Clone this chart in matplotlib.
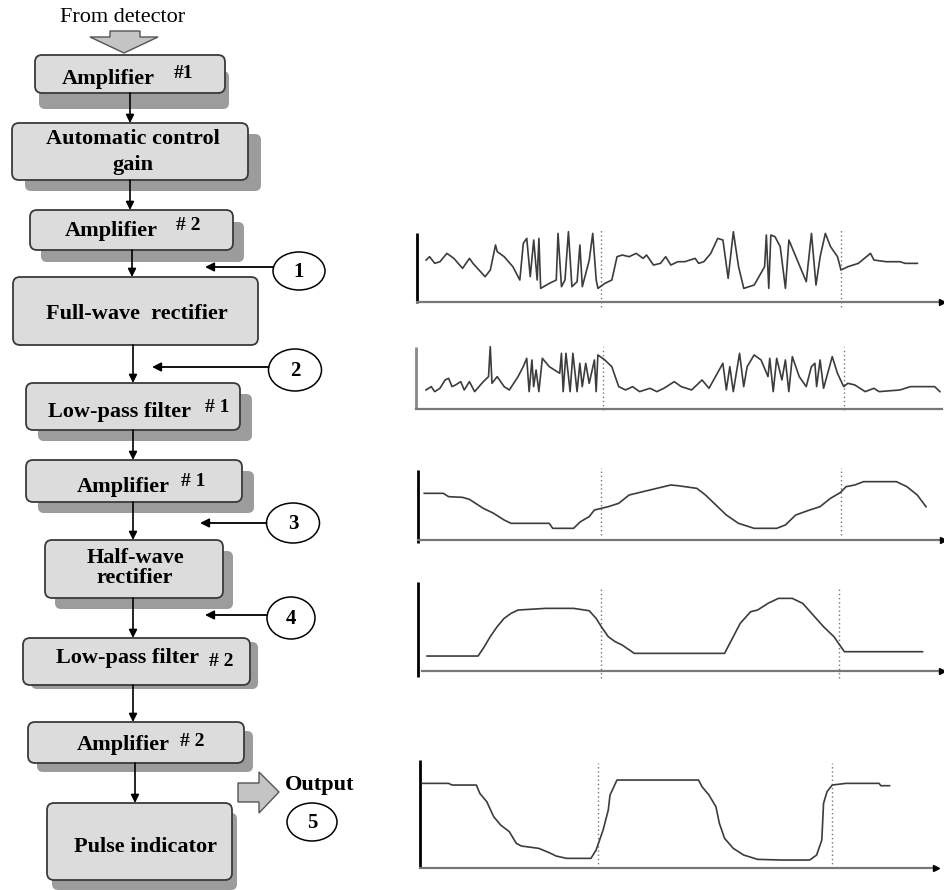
"""Pulse detection chain: block diagram with the signal seen at each stage"""

import matplotlib
matplotlib.use("Agg")
import matplotlib.pyplot as plt
from matplotlib.patches import FancyBboxPatch, Ellipse, Polygon

# ---- data -------------------------------------------------------------
block_labels = ["Amplifier", "Automatic control\ngain", "Amplifier",
                "Full-wave  rectifier", "Low-pass filter", "Amplifier",
                "Half-wave\nrectifier", "Low-pass filter", "Amplifier",
                "Pulse indicator"]
block_tags = ["#1", "", "# 2", "", "# 1", "# 1", "", "# 2", "# 2", ""]
probe_labels = ["1", "2", "3", "4", "5"]

# signal 1: output of amplifier #2 (time units, amplitude counts)
sig1_t = [2.5, 3.5, 5, 6.5, 8.5, 10.5, 13, 15, 16, 19.5, 21, 22.5, 23, 25, 27.5,
          29.5, 30.5, 31.5, 32.5, 33.5, 34.5, 35, 35.5, 38, 40, 40.5, 41.5, 42.5,
          43.5, 44.5, 46, 46.8, 47.5, 49.5, 50.5, 51.5, 52, 54, 56, 57.5, 59, 61,
          63, 65, 66, 68, 70, 71.5, 73, 75, 77, 80, 81, 82.5, 84.5, 86.5, 88,
          89.5, 91, 92.5, 94, 97, 100, 100.5, 101.2, 101.8, 103, 104.5, 106, 107,
          109, 112, 113.5, 114.8, 116, 117.5, 119, 121, 122, 124, 127, 130.5,
          131.5, 135, 139, 140.5, 144]
sig1_v = [125, 135, 115, 120, 145, 130, 100, 130, 115, 75, 95, 170, 150, 135, 105,
          65, 175, 190, 75, 185, 65, 190, 40, 55, 65, 205, 45, 65,
          210, 45, 60, 170, 45, 125, 205, 65, 40, 55, 65, 135, 140, 135,
          145, 130, 140, 110, 115, 135, 110, 120, 120, 130, 115, 120, 145, 190, 185,
          70, 210, 105, 40, 50, 105, 200, 40, 200, 195, 165, 40, 185,
          135, 60, 205, 50, 135, 205, 165, 135, 95, 105, 115, 145,
          125, 120, 120, 115, 115]

# signal 2: after the full-wave rectifier
sig2_t = [2.8, 4.3, 5.3, 6.8, 8.3, 9.3, 10.3, 11.3, 12.8, 13.8, 15.3, 16.8, 19.3,
          20.8, 21.3, 21.8, 23.3, 25.3, 26.8, 29.3, 30.8, 31.8, 32.5, 33.3, 33.8,
          34.5, 35.3, 36.3, 38.3, 41.3, 41.8, 42.3, 43.1, 44.3, 45.1, 46.3, 47.1,
          47.8, 48.8, 49.8, 51.3, 51.8, 52.3, 54.3, 56.3, 58.3, 60.3, 62.3, 64.3,
          67.3, 69.3, 71.3, 74.3, 76.3, 79.3, 82.3, 84.3, 88.3, 89.3, 90.3, 91.3,
          93.1, 94.3, 95.3, 97.3, 99.3, 101.3, 101.8, 102.8, 103.8, 105.3, 106.3,
          107.3, 108.3, 110.3, 112.3, 113.8, 114.8, 115.3, 116.3, 117.3, 119.8,
          121.3, 123.1, 124.3, 126.3, 129.3, 131.8, 133.3, 139.3, 142.3, 149.3,
          150.8]
sig2_v = [58, 68, 53, 63, 88, 93, 68, 73, 83, 58, 83, 53, 83,
          98, 188, 78, 98, 68, 58, 98, 128, 153, 53, 148, 68,
          118, 53, 153, 128, 108, 168, 53, 168, 53, 168, 53, 138,
          68, 138, 78, 148, 53, 163, 148, 128, 68, 58, 68, 53,
          63, 53, 63, 83, 68, 58, 88, 63, 138, 58, 128, 53,
          168, 68, 128, 163, 148, 98, 153, 53, 153, 88, 148,
          53, 158, 98, 68, 128, 138, 68, 148, 63, 158,
          108, 68, 78, 73, 53, 63, 53, 58, 68, 68,
          53]

# signal 3: after low-pass filter #1 and amplifier #1
sig3_t = [1.8, 7.3, 8.8, 12.8, 14.8, 18.8, 21.8, 24.8, 26.8, 37.8, 38.8, 44.8,
          46.8, 49.3, 50.8, 54.8, 57.8, 60.8, 64.8, 68.8, 72.8, 74.8, 80.3, 82.8,
          85.8, 88.8, 92.3, 96.8, 103.3, 105.8, 108.8, 112.8, 115.8, 118.8, 121.6,
          123.3, 125.8, 128.3, 137.8, 140.8, 143.8, 146.3]
sig3_v = [140, 140, 130, 128, 122, 95, 80, 60, 50, 50, 35, 35,
          55, 70, 90, 100, 110, 135, 145, 155, 165, 163, 155, 135,
          105, 75, 50, 35, 35, 45, 75, 90, 100, 125, 142,
          160, 165, 175, 175, 160, 135, 100]

# signal 4: after the half-wave rectifier
sig4_t = [2.6, 17.3, 18.8, 20.8, 22.8, 24.8, 26.8, 28.8, 36.8, 44.8, 49.3, 51.3,
          52.8, 54.8, 56.8, 58.8, 62.3, 88.3, 89.8, 92.8, 95.8, 97.8, 100.8, 103.8,
          107.8, 110.8, 113.8, 116.8, 119.8, 121.8, 122.8, 145.3]
sig4_v = [44, 44, 67, 102, 132, 157, 172, 182, 187, 187, 180, 157,
          132, 102, 87, 77, 52, 52, 82, 142, 177, 182, 202, 217,
          217, 202, 167, 132, 102, 72, 57, 57]

# signal 5: output after low-pass filter #2 and amplifier #2
sig5_t = [0.7, 8.2, 9.2, 16.2, 17.2, 19.2, 21.2, 23.2, 25.7, 27.7, 29.2, 34.2,
          37.2, 39.2, 42.2, 49.2, 50.7, 52.7, 54.2, 54.7, 56.7, 80.2, 81.2, 83.2,
          85.2, 86.2, 87.7, 90.2, 93.2, 97.2, 104.2, 112.2, 114.2, 115.7, 116.2,
          117.2, 118.7, 122.7, 132.2, 132.7, 135.2]
sig5_v = [253, 253, 248, 248, 223, 198, 153, 128, 108, 73, 65, 58,
          45, 35, 28, 28, 53, 113, 173, 218, 263, 263, 243, 218,
          183, 133, 88, 58, 38, 25, 23, 23, 38, 83, 193,
          228, 248, 253, 253, 246, 246]

# ---- layout ------------------------------------------------------------
W, H = 945, 890
SERIF = ["Liberation Serif", "DejaVu Serif"]
BOX_FACE = "#dcdcdc"
BOX_EDGE = "#3a3a3a"
SHADOW = "#9c9c9c"

# (x0, y0, x1, y1), shadow offset, text centre, tag centre
block_layout = [
    ((35, 55, 225, 93), (4, 16), (108, 79), (183, 74)),
    ((12, 123, 248, 180), (13, 11), (133, 152), None),
    ((30, 210, 233, 250), (11, 12), (111, 231), (188, 226)),
    ((13, 277, 258, 345), None, (137, 314), None),
    ((26, 383, 240, 430), (12, 11), (120, 412), (217, 407)),
    ((26, 460, 242, 502), (12, 11), (123, 487), (193, 482)),
    ((45, 540, 223, 598), (10, 11), (135, 568), None),
    ((23, 638, 250, 685), (8, 4), (127, 658), (221, 661)),
    ((28, 722, 244, 763), (9, 9), (123, 745), (192, 741)),
    ((47, 803, 232, 880), (5, 10), (145, 847), None),
]
flow_arrows = [(130, 93, 123), (130, 180, 210), (132, 250, 277), (133, 345, 383),
               (133, 430, 460), (133, 502, 540), (133, 598, 638), (133, 685, 722),
               (135, 763, 803)]
# circle centre, size, pointer (y, tip x) or None
probe_layout = [((299, 271), (52, 38), (267, 205)),
                ((295, 370), (53, 42), (367, 152)),
                ((293, 523), (53, 40), (523, 200)),
                ((291, 618), (48, 42), (615, 205)),
                ((312, 822), (50, 38), None)]

fig = plt.figure(figsize=(W / 100, H / 100), dpi=100)
ax = fig.add_axes([0, 0, 1, 1])
ax.set_xlim(0, W)
ax.set_ylim(H, 0)
ax.axis("off")

# input arrow
ax.text(123, 18, "From detector", family=SERIF, fontsize=16, ha="center", va="center")
ax.add_patch(Polygon([(110, 31), (140, 31), (140, 37), (158, 37), (124, 53),
                      (90, 37), (110, 37)], closed=True, facecolor="#c4c4c4",
                     edgecolor="#555555", lw=1.0))

# blocks
for label, tag, (rect, shad, tpos, gpos) in zip(block_labels, block_tags, block_layout):
    x0, y0, x1, y1 = rect
    if shad is not None:
        ax.add_patch(FancyBboxPatch((x0 + shad[0], y0 + shad[1]), x1 - x0, y1 - y0,
                                    boxstyle="round,pad=0,rounding_size=6",
                                    facecolor=SHADOW, edgecolor="none", zorder=1))
    ax.add_patch(FancyBboxPatch((x0, y0), x1 - x0, y1 - y0,
                                boxstyle="round,pad=0,rounding_size=7",
                                facecolor=BOX_FACE, edgecolor=BOX_EDGE, lw=1.3, zorder=2))
    if label.startswith("Half"):
        spacing = 1.0
    elif label.startswith("Auto"):
        spacing = 1.4
    else:
        spacing = 1.15
    ax.text(tpos[0], tpos[1], label, family=SERIF, weight="bold", fontsize=16,
            ha="center", va="center", linespacing=spacing, zorder=3)
    if tag:
        ax.text(gpos[0], gpos[1], tag, family=SERIF, weight="bold", fontsize=14,
                ha="center", va="center", zorder=3)

for x, ya, yb in flow_arrows:
    ax.annotate("", xy=(x, yb), xytext=(x, ya),
                arrowprops=dict(arrowstyle="-|>", color="black", lw=1.2,
                                mutation_scale=12, shrinkA=0, shrinkB=0), zorder=4)

# probe points
for num, (centre, size, ptr) in zip(probe_labels, probe_layout):
    ax.add_patch(Ellipse(centre, size[0], size[1], facecolor="white",
                         edgecolor="black", lw=1.1, zorder=3))
    ax.text(centre[0], centre[1] + 1, num, family=SERIF, weight="bold", fontsize=15,
            ha="center", va="center", zorder=4)
    if ptr is not None:
        ax.annotate("", xy=(ptr[1], ptr[0]), xytext=(centre[0] - size[0] / 2, ptr[0]),
                    arrowprops=dict(arrowstyle="-|>", color="black", lw=1.3,
                                    mutation_scale=13, shrinkA=0, shrinkB=0))

# output arrow
ax.add_patch(Polygon([(238, 783), (259, 783), (259, 772), (279, 792), (259, 813),
                      (259, 802), (238, 802)], closed=True, facecolor="#c4c4c4",
                     edgecolor="#555555", lw=1.0))
ax.text(285, 785, "Output", family=SERIF, weight="bold", fontsize=16,
        ha="left", va="center")

# ---- signal panels -----------------------------------------------------
PX_PER_T = 3.472   # horizontal pixels per time unit
PX_PER_V = 1 / 3   # vertical pixels per amplitude count


def draw_panel(t, v, origin, tmax, amax, marks, mark_span, arrow=True,
               yaxis_color="black", y_low=0, x_start=0):
    x0, y0 = origin
    w = tmax * PX_PER_T
    h = amax * PX_PER_V
    pax = fig.add_axes([x0 / W, (H - y0) / H, w / W, h / H])
    pax.set_xlim(0, tmax)
    pax.set_ylim(0, amax)
    pax.axis("off")
    pax.plot([0, 0], [y_low, amax], color=yaxis_color, lw=2, clip_on=False,
             solid_capstyle="butt")
    pax.plot([x_start, tmax], [0, 0], color="#777777", lw=1.6, clip_on=False)
    if arrow:
        pax.plot([tmax], [0], marker=">", color="black", ms=5, clip_on=False)
    for m in marks:
        pax.plot([m, m], mark_span, color="#777777", lw=1.0,
                 linestyle=(0, (1, 2)), clip_on=False)
    pax.plot(t, v, color="#3c3c3c", lw=1.2, clip_on=False)
    return pax


draw_panel(sig1_t, sig1_v, (417.4, 301.7), 151, 205, [52.8, 122], (-15, 215), y_low=-3)
draw_panel(sig2_t, sig2_v, (416.3, 409.3), 151.3, 188, [53.8, 123.1], (-2, 188),
           arrow=False, yaxis_color="#888888")
draw_panel(sig3_t, sig3_v, (418, 540), 151.3, 210, [52.6, 121.8], (15, 215), y_low=-10)
draw_panel(sig4_t, sig4_v, (418, 670.7), 150.8, 267, [52.6, 121.3], (-23, 252),
           y_low=-18, x_start=1.2)
draw_panel(sig5_t, sig5_v, (420.1, 867.7), 148.7, 323, [51.2, 118.5], (0, 313))

fig.savefig("out.png", dpi=100)
